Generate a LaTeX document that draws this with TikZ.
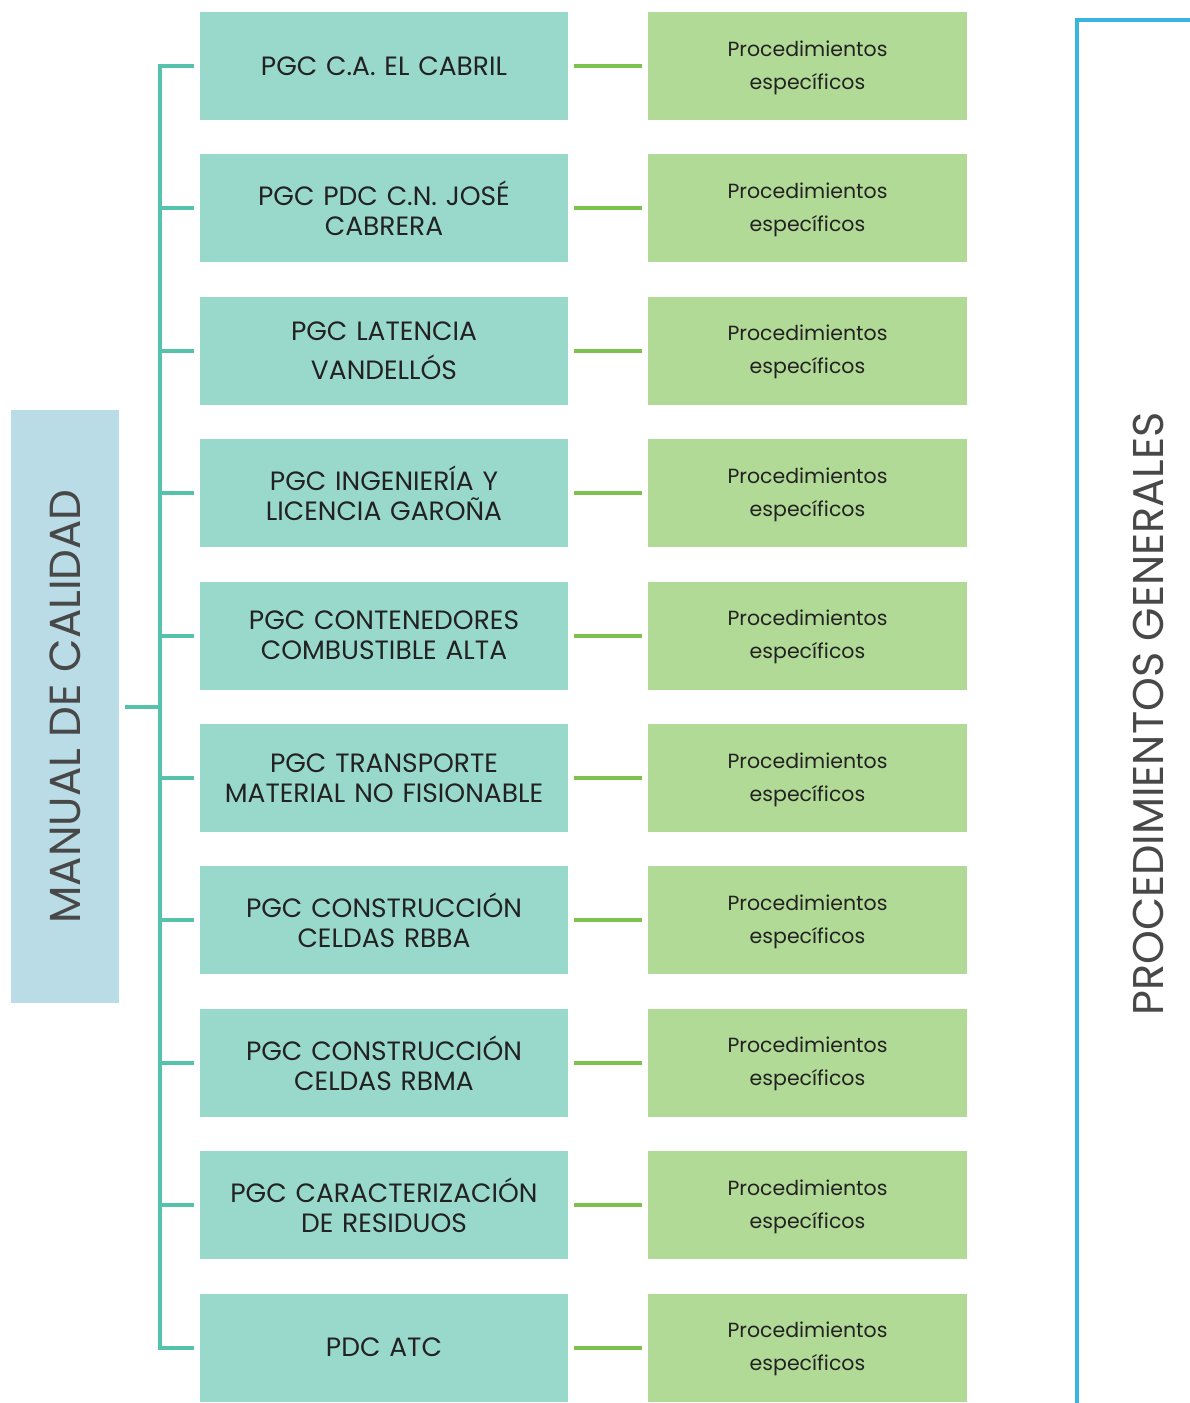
\documentclass[tikz,border=0pt]{standalone}
\usepackage{fontspec}
\setmainfont{Poppins}
\definecolor{tealbox}{HTML}{99D9CB}
\definecolor{greenbox}{HTML}{B2DA97}
\definecolor{bluebox}{HTML}{B9DCE6}
\definecolor{tealline}{HTML}{55C3AB}
\definecolor{greenline}{HTML}{7DC24F}
\definecolor{blueline}{HTML}{3AB5E0}
\definecolor{darktext}{HTML}{222222}
\definecolor{graytext}{HTML}{484848}
\begin{document}
\begin{tikzpicture}[x=1pt,y=-1pt,
  pgcbox/.style={fill=tealbox, draw=none, minimum width=368pt, minimum height=108pt, inner sep=0pt,
    text width=364pt, align=center, font=\fontsize{26.5}{30}\selectfont, text=darktext},
  procbox/.style={fill=greenbox, draw=none, minimum width=319pt, minimum height=108pt, inner sep=0pt,
    text width=315pt, align=center, font=\fontsize{20.5}{33}\selectfont, text=darktext},
  tline/.style={tealline, line width=4pt},
  gline/.style={greenline, line width=4pt},
  bline/.style={blueline, line width=4pt}]
\useasboundingbox (0,0) rectangle (1190,1403);
% left box
\node[fill=bluebox, minimum width=108pt, minimum height=593pt, inner sep=0pt] (manual) at (65,706.5) {};
\node[rotate=90, text=graytext, font=\fontsize{43.5}{50}\selectfont] (manualtxt) at (manual.center) {MANUAL DE CALIDAD};
% rows
\foreach \i/\t in {1/{PGC C.A. EL CABRIL},2/{PGC PDC C.N. JOSÉ\\CABRERA},3/{PGC LATENCIA\\[9pt]VANDELLÓS},4/{PGC INGENIERÍA Y\\LICENCIA GAROÑA},5/{PGC CONTENEDORES\\COMBUSTIBLE ALTA},6/{PGC TRANSPORTE\\MATERIAL NO FISIONABLE},7/{PGC CONSTRUCCIÓN\\CELDAS RBBA},8/{PGC CONSTRUCCIÓN\\CELDAS RBMA},9/{PGC CARACTERIZACIÓN\\DE RESIDUOS},10/{PDC ATC}}{
  \pgfmathsetmacro{\yy}{66+(\i-1)*142.4}
  \node[pgcbox] (p\i) at (384,\yy) {\t};
  \node[procbox] (s\i) at (807.5,\yy) {};
  \node[text width=315pt, align=center, font=\fontsize{20.5}{33}\selectfont, text=darktext, inner sep=0pt] (st\i) at (807.5,\yy+1.5) {Procedimientos\\específicos};
  \draw[gline] ([xshift=6pt]p\i.east) -- ([xshift=-6pt]s\i.west);
}
% bracket
\coordinate (bt) at (160,66);
\coordinate (bb) at (160,1347.6);
\draw[tline, line cap=rect] (bt) -- (bb);
\foreach \i in {1,...,10}{
  \draw[tline] (p\i.west -| bt) -- ([xshift=-6pt]p\i.west);
}
\draw[tline] ([xshift=6pt]manual.east) -- (manual.east -| bt);
% right blue line
\coordinate (btop) at (1077,20);
\coordinate (bbot) at (1077,1403);
\coordinate (bright) at (1190,20);
\draw[bline] (bbot) -- (btop) -- (bright);
\node[rotate=90, text=graytext, font=\fontsize{43}{50}\selectfont] (gen) at (1148,714) {PROCEDIMIENTOS GENERALES};
\end{tikzpicture}
\end{document}
